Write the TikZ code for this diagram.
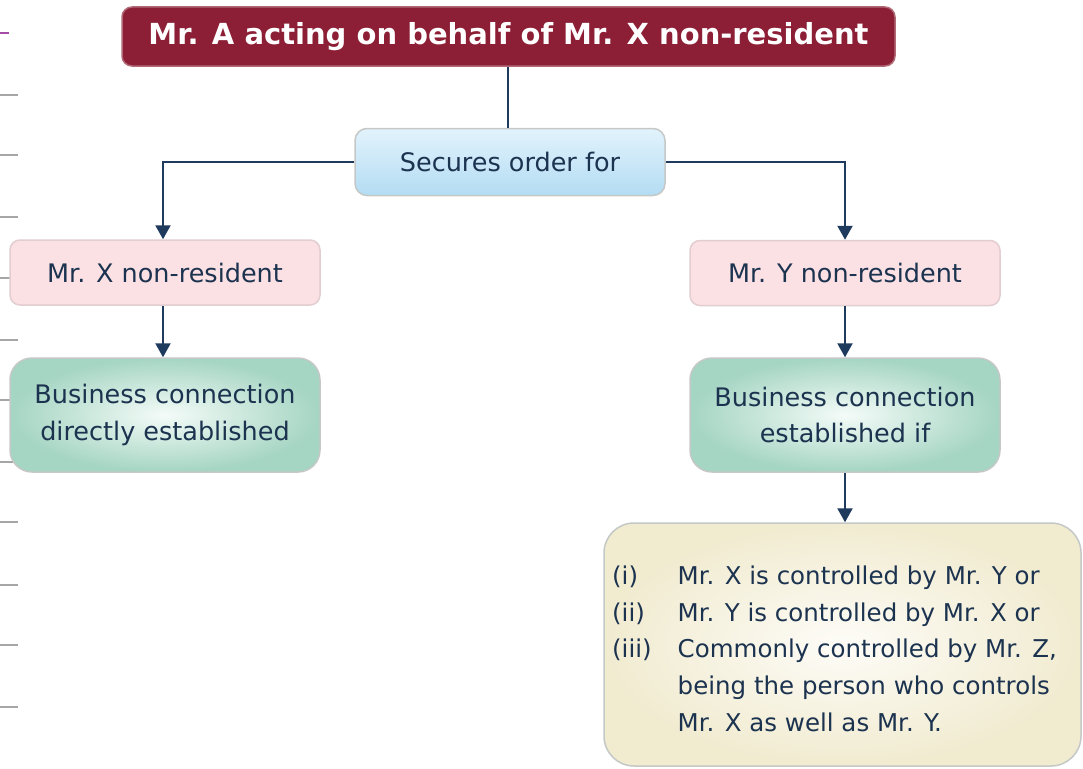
\documentclass[tikz,border=0pt]{standalone}
\usepackage{fontspec}
\setmainfont{DejaVu Sans}
\usetikzlibrary{arrows.meta}
\definecolor{navy}{HTML}{1E3A5C}
\definecolor{txt}{HTML}{1C3350}
\definecolor{wine}{HTML}{8C1F36}
\definecolor{wineb}{HTML}{B06A78}
\definecolor{bluetop}{HTML}{E2F3FC}
\definecolor{bluebot}{HTML}{B3DCF3}
\definecolor{pinkf}{HTML}{FBE1E4}
\definecolor{greeno}{HTML}{A5D5C3}
\definecolor{greeni}{HTML}{F4FBF8}
\definecolor{creamo}{HTML}{F1EBD0}
\definecolor{creami}{HTML}{FDFCF7}
\definecolor{boxb}{HTML}{C4C8C6}
\tikzset{
  bodytext/.style={font=\fontsize{25.5}{36.8}\selectfont, text=txt, align=center, inner sep=0pt},
  body/.style={bodytext, draw=boxb, line width=1.5pt},
  titlebox/.style={fill=wine, draw=wineb, line width=1.5pt, rounded corners=10pt, text=white,
     font=\bfseries\fontsize{29}{34}\selectfont, minimum width=773pt, minimum height=59pt, inner sep=0pt},
  bluebox/.style={body, rounded corners=12pt, top color=bluetop, bottom color=bluebot, minimum width=310pt, minimum height=67pt},
  pinkbox/.style={body, rounded corners=10pt, fill=pinkf, draw=pinkf!80!gray, minimum width=310pt, minimum height=65pt},
  greenbox/.style={body, rounded corners=22pt, inner color=greeni, outer color=greeno, minimum width=310pt, minimum height=114pt},
  creambox/.style={body, rounded corners=30pt, inner color=creami, outer color=creamo, minimum width=477pt, minimum height=243pt},
  conn/.style={draw=navy, line width=2.2pt},
  arr/.style={conn, -{Triangle[width=15pt,length=14pt]}},
  tick/.style={draw=black!35, line width=1.2pt}
}
\begin{document}
\begin{tikzpicture}[x=1pt,y=-1pt]
\useasboundingbox (0,0) rectangle (1083,768);
\fill[white] (0,0) rectangle (1083,768);
% page ticks
\draw[draw=violet!70, line width=2pt] (0,33) -- (9,33);
\foreach \yy in {95,155,217,278,340,400,462,522,585,645,707}
  \draw[tick] (0,\yy) -- (18,\yy);
\node[titlebox] (title) at (508.5,36.5) {Mr. A acting on behalf of Mr. X non-resident};
\node[bluebox] (secures) at (510,162) {Secures order for};
\node[pinkbox] (mrx) at (165,272.5) {Mr. X non-resident};
\node[pinkbox] (mry) at (845,273) {Mr. Y non-resident};
\node[greenbox] (bcl) at (165,415) {Business connection\\directly established};
\node[greenbox] (bcr) at (845,415) {Business connection\\established if};
\node[creambox] (cond) at (842.5,644.5) {};
\node[bodytext, font=\fontsize{24.5}{36.8}\selectfont] (condtext) at ([xshift=-8pt,yshift=-6pt]cond.center) {%
  \begin{tabular}{@{}l@{\hspace{26pt}}l@{}}
  (i) & Mr. X is controlled by Mr. Y or\\
  (ii) & Mr. Y is controlled by Mr. X or\\
  (iii) & Commonly controlled by Mr. Z,\\
   & being the person who controls\\
   & Mr. X as well as Mr. Y.
  \end{tabular}};
\draw[conn] (title.south -| 508,0) -- (secures.north -| 508,0);
\draw[arr] (secures.west) -| (mrx.north -| 163,0);
\draw[arr] (secures.east) -| (mry.north -| 845,0);
\draw[arr] (mrx.south -| 163,0) -- (bcl.north -| 163,0);
\draw[arr] (mry.south) -- (bcr.north);
\draw[arr] (bcr.south) -- (cond.north -| bcr.south);
\end{tikzpicture}
\end{document}
